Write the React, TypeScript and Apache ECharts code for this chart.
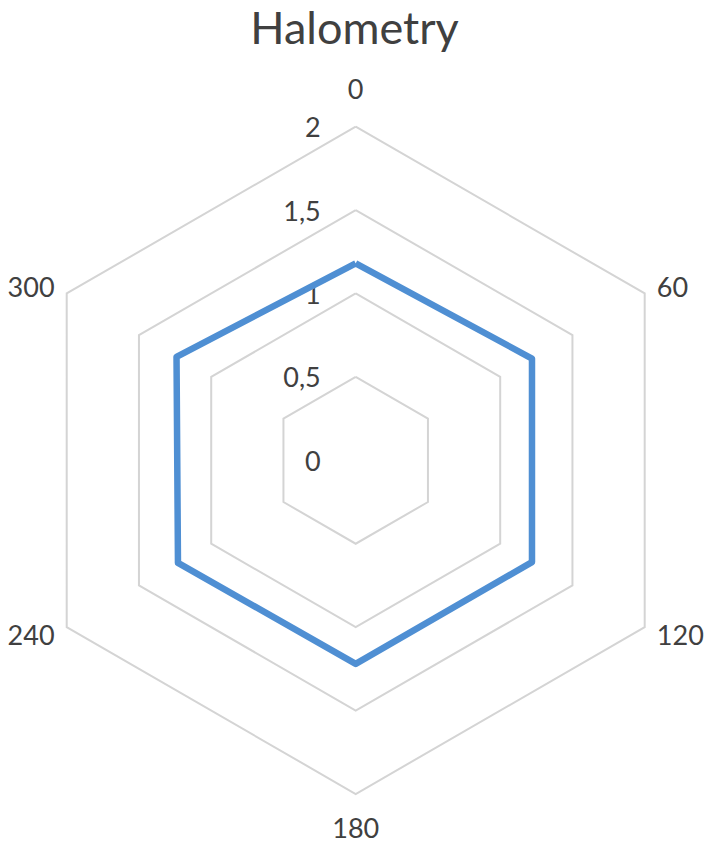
import React, { useEffect, useRef } from "react";
import * as echarts from "echarts";

// Angles clockwise from the top, as labelled in the chart
const angleLabels = ["0", "60", "120", "180", "240", "300"];
const halometryValues = [1.18, 1.22, 1.22, 1.22, 1.23, 1.24];
const radialMin = 0;
const radialMax = 2;
const radialSplits = 4;

const FONT = "Lato, 'Open Sans', sans-serif";
const TEXT_COLOR = "#404040";

export default function App() {
  const ref = useRef<HTMLDivElement>(null);
  useEffect(() => {
    if (!ref.current) return;
    const chart = echarts.init(ref.current, null, { renderer: "svg" });
    // ECharts radar places indicators counter-clockwise; reverse (keeping the first) to get clockwise order
    const order = [0, 5, 4, 3, 2, 1];
    const indicator = order.map((i, k) => ({
      name: angleLabels[i],
      min: radialMin,
      max: radialMax,
      axisLabel:
        k === 0
          ? {
              show: true,
              color: TEXT_COLOR,
              fontFamily: FONT,
              fontSize: 27,
              margin: 35,
              showMinLabel: true,
              showMaxLabel: true,
              formatter: (v: number) => String(v).replace(".", ","),
            }
          : { show: false },
    }));
    const values = order.map((i) => halometryValues[i]);
    const nameStyle = { color: TEXT_COLOR, fontFamily: FONT, fontSize: 27 };
    chart.setOption({
      animation: false,
      title: {
        text: "Halometry",
        left: "center",
        top: 2,
        padding: [2, 5, 5, 5],
        textStyle: { color: TEXT_COLOR, fontFamily: FONT, fontSize: 45, fontWeight: "normal" },
      },
      radar: {
        center: [355.7, 460.3],
        radius: 333.7,
        startAngle: 90,
        shape: "polygon",
        splitNumber: radialSplits,
        indicator,
        axisName: {
          ...nameStyle,
          formatter: (name: string) => {
            if (name === angleLabels[0]) return "{t|" + name + "}";
            if (name === angleLabels[3]) return "{b|" + name + "}";
            return "{s|" + name + "}";
          },
          rich: {
            t: { ...nameStyle, padding: [0, 0, 11, 0] },
            b: { ...nameStyle, padding: [6, 0, 0, 0] },
            s: { ...nameStyle },
          },
        },
        nameGap: 14,
        axisLine: { show: false },
        axisTick: { show: false },
        axisLabel: { show: false },
        splitLine: { lineStyle: { color: "#d4d4d4", width: 2 } },
        splitArea: { show: false },
      },
      series: [
        {
          type: "radar",
          symbol: "none",
          data: [
            {
              value: values,
              name: "Halometry",
              lineStyle: { color: "#4f8fd3", width: 6.5, join: "round" },
            },
          ],
        },
      ],
    });
    return () => chart.dispose();
  }, []);
  return (
    <div
      ref={ref}
      style={{ position: "absolute", left: 0, top: 0, width: 709, height: 846, background: "#fff" }}
    />
  );
}
